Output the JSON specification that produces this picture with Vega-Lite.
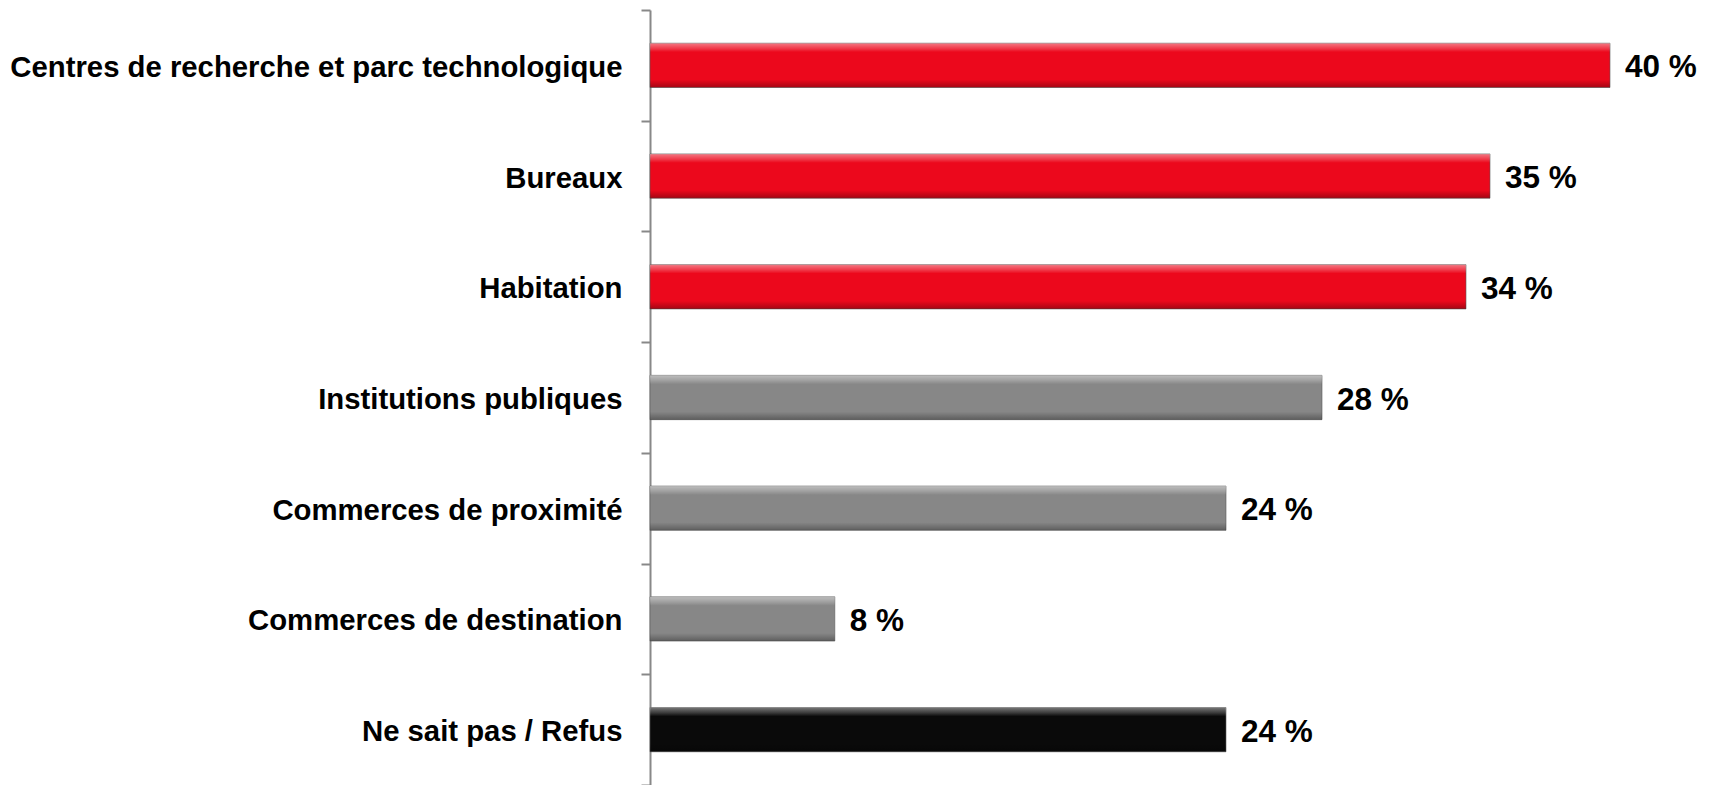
{
  "$schema": "https://vega.github.io/schema/vega-lite/v6.json",
  "autosize": {"type": "none"},
  "padding": {"left": 650, "top": 10, "right": 9, "bottom": 0},
  "width": 1056,
  "height": 775,
  "background": "white",
  "config": {"view": {"stroke": null}, "font": "Liberation Sans"},
  "data": {
    "values": [
      {"cat": "Centres de recherche et parc technologique", "value": 40, "label": "40 %", "group": "top"},
      {"cat": "Bureaux", "value": 35, "label": "35 %", "group": "top"},
      {"cat": "Habitation", "value": 34, "label": "34 %", "group": "top"},
      {"cat": "Institutions publiques", "value": 28, "label": "28 %", "group": "other"},
      {"cat": "Commerces de proximité", "value": 24, "label": "24 %", "group": "other"},
      {"cat": "Commerces de destination", "value": 7.7, "label": "8 %", "group": "other"},
      {"cat": "Ne sait pas / Refus", "value": 24, "label": "24 %", "group": "nsp"}
    ]
  },
  "encoding": {
    "y": {
      "field": "cat", "type": "nominal", "sort": null, "title": null,
      "scale": {"paddingInner": 0, "paddingOuter": 0},
      "axis": {
        "domainColor": "#888888", "domainWidth": 2,
        "tickColor": "#888888", "tickWidth": 2, "tickSize": 9, "tickBand": "extent",
        "labelFont": "Liberation Sans", "labelFontWeight": "bold", "labelFontSize": 29.3,
        "labelColor": "#000000", "labelPadding": 19, "labelLimit": 700, "labelOffset": 2
      }
    },
    "x": {"field": "value", "type": "quantitative", "scale": {"domain": [0, 44]}, "axis": null}
  },
  "layer": [
    {
      "mark": {"type": "bar", "height": {"band": 0.4}, "stroke": "#5a5a5a", "strokeWidth": 1, "strokeOpacity": 0.6},
      "encoding": {
        "color": {
          "field": "group", "type": "nominal", "legend": null,
          "scale": {"domain": ["top", "other", "nsp"], "range": ["#EC081C", "#878787", "#0A0A0A"]}
        }
      }
    },
    {
      "mark": {
        "type": "bar",
        "height": {"band": 0.4},
        "fill": {
          "gradient": "linear", "x1": 0, "y1": 0, "x2": 0, "y2": 1,
          "stops": [
            {"offset": 0, "color": "rgba(255,255,255,0.45)"},
            {"offset": 0.12, "color": "rgba(255,255,255,0.2)"},
            {"offset": 0.2, "color": "rgba(255,255,255,0)"},
            {"offset": 0.82, "color": "rgba(0,0,0,0)"},
            {"offset": 1, "color": "rgba(0,0,0,0.3)"}
          ]
        }
      },
      "encoding": {}
    },
    {
      "mark": {"type": "text", "align": "left", "baseline": "middle", "dx": 15, "dy": 3, "font": "Liberation Sans", "fontWeight": "bold", "fontSize": 31.5, "color": "#000000"},
      "encoding": {"text": {"field": "label"}}
    }
  ]
}
